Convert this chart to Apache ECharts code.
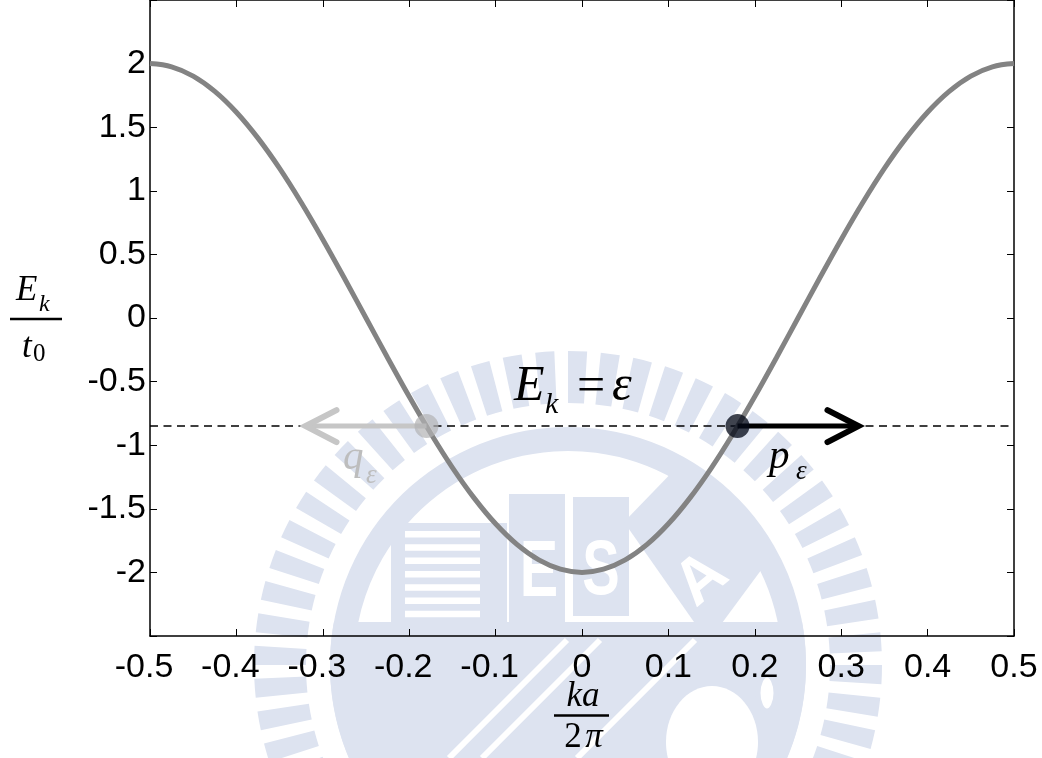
<!DOCTYPE html>
<html>
<head>
<meta charset="utf-8">
<script src="https://cdn.jsdelivr.net/npm/echarts@6/dist/echarts.min.js"></script>
<style>
  html, body { margin: 0; padding: 0; background: #ffffff; }
  #chart { width: 1042px; height: 758px; }
</style>
</head>
<body>
<div id="chart"></div>
<script>
// Tight-binding band E_k / t0 versus ka / 2pi, sampled every 0.025
const kValues = [
  -0.5, -0.475, -0.45, -0.425, -0.4, -0.375, -0.35, -0.325, -0.3, -0.275, -0.25,
  -0.225, -0.2, -0.175, -0.15, -0.125, -0.1, -0.075, -0.05, -0.025, 0,
  0.025, 0.05, 0.075, 0.1, 0.125, 0.15, 0.175, 0.2, 0.225, 0.25,
  0.275, 0.3, 0.325, 0.35, 0.375, 0.4, 0.425, 0.45, 0.475, 0.5
];
const energyValues = [
  2.0, 1.975, 1.902, 1.782, 1.618, 1.414, 1.176, 0.908, 0.618, 0.313, 0.0,
  -0.313, -0.618, -0.908, -1.176, -1.414, -1.618, -1.782, -1.902, -1.975, -2.0,
  -1.975, -1.902, -1.782, -1.618, -1.414, -1.176, -0.908, -0.618, -0.313, 0.0,
  0.313, 0.618, 0.908, 1.176, 1.414, 1.618, 1.782, 1.902, 1.975, 2.0
];
// Energy level epsilon and the two states on it
const epsilonLevel = -0.85;
const stateK = [-0.18, 0.18];
const arrowEndK = [-0.32, 0.32];
const stateColors = ['rgba(178,178,180,0.88)', 'rgba(5,10,25,0.96)'];
const arrowColors = ['#c6c6c6', '#000000'];

// Axis ranges and tick steps
const kRange = [-0.5, 0.5];
const kStep = 0.1;
const eRange = [-2.5, 2.5];
const eStep = 0.5;
const eLabelLimit = 2;

const curveData = kValues.map((k, i) => [k, energyValues[i]]);
const levelData = [[kRange[0], epsilonLevel], [kRange[1], epsilonLevel]];
const stateData = stateK.map(k => [k, epsilonLevel]);
const arrowData = stateK.map((k, i) => [k, arrowEndK[i], epsilonLevel]);

const tickFont = 'Liberation Sans, Arial, Helvetica, sans-serif';
const mathFont = 'Liberation Serif, Times New Roman, serif';
const tickSize = 34;

// ---- faint seal in the background ----
const sealColor = '#dde3f0';
const C = [568, 665];
const deg = Math.PI / 180;
const seal = [];
for (let a = 150; a <= 392; a += 6) {
  seal.push({
    type: 'sector', z: -10, silent: true,
    shape: { cx: C[0], cy: C[1], r0: 262, r: 314, startAngle: a * deg, endAngle: (a + 3.5) * deg, clockwise: true },
    style: { fill: sealColor }
  });
}
seal.push({
  type: 'sector', z: -10, silent: true,
  shape: { cx: C[0], cy: C[1], r0: 214, r: 238, startAngle: 150 * deg, endAngle: 390 * deg, clockwise: true },
  style: { fill: sealColor }
});
// lower filled region of the seal
(function () {
  const yTop = 622, r = 238;
  const pts = [];
  const dx = Math.sqrt(r * r - (C[1] - yTop) * (C[1] - yTop));
  pts.push([C[0] - dx, yTop], [C[0] + dx, yTop]);
  const a0 = Math.asin((yTop - C[1]) / r);
  for (let a = a0; a <= Math.PI - a0; a += 0.02) {
    pts.push([C[0] + r * Math.cos(a), C[1] + r * Math.sin(a)]);
  }
  seal.push({ type: 'polygon', z: -10, silent: true, shape: { points: pts }, style: { fill: sealColor } });
})();
// building, E and S blocks
seal.push({ type: 'rect', z: -9, silent: true, shape: { x: 391, y: 523, width: 116, height: 99 }, style: { fill: sealColor } });
for (let i = 0; i < 7; i++) {
  seal.push({ type: 'rect', z: -8, silent: true, shape: { x: 405, y: 531 + i * 13.3, width: 75, height: 6.5 }, style: { fill: '#ffffff' } });
}
seal.push({ type: 'rect', z: -9, silent: true, shape: { x: 509, y: 494, width: 56, height: 130 }, style: { fill: sealColor } });
seal.push({ type: 'rect', z: -9, silent: true, shape: { x: 573, y: 497, width: 56, height: 119 }, style: { fill: sealColor } });
seal.push({ type: 'text', z: -8, silent: true, x: 539, y: 574, scaleX: 0.72,
  style: { text: 'E', fill: '#ffffff', font: 'bold 80px ' + tickFont, align: 'center', verticalAlign: 'middle' } });
seal.push({ type: 'text', z: -8, silent: true, x: 601, y: 572, scaleX: 0.72,
  style: { text: 'S', fill: '#ffffff', font: 'bold 78px ' + tickFont, align: 'center', verticalAlign: 'middle' } });
// A diamond
seal.push({ type: 'polygon', z: -9, silent: true,
  shape: { points: [[624, 522], [682, 462], [770, 558], [708, 642]] }, style: { fill: sealColor } });
seal.push({ type: 'text', z: -8, silent: true, x: 702, y: 580, rotation: 40 * deg,
  style: { text: 'A', fill: '#ffffff', font: 'bold 64px ' + tickFont, align: 'center', verticalAlign: 'middle' } });
// white diagonals in lower region
[1207, 1240, 1335].forEach(c => {
  seal.push({ type: 'line', z: -8, silent: true, shape: { x1: c - 758, y1: 758, x2: c - 640, y2: 640 }, style: { stroke: '#ffffff', lineWidth: 6 } });
});
seal.push({ type: 'ellipse', z: -8, silent: true, shape: { cx: 712, cy: 742, rx: 46, ry: 56 }, style: { fill: '#ffffff' } });
seal.push({ type: 'ellipse', z: -8, silent: true, shape: { cx: 767, cy: 693, rx: 9, ry: 18 }, style: { fill: '#ffffff', stroke: sealColor, lineWidth: 5 } });

// ---- math labels ----
function mtext(x, y, text, size, italic, color, align) {
  return {
    type: 'text', z: 20, silent: true, x: x, y: y,
    style: {
      text: text, fill: color || '#000000',
      font: (italic ? 'italic ' : '') + size + 'px ' + mathFont,
      align: align || 'left', verticalAlign: 'middle'
    }
  };
}
const labels = [
  // E_k / t_0
  mtext(16, 291, 'E', 35, true),
  mtext(39, 305, 'k', 24, true),
  { type: 'line', z: 20, silent: true, shape: { x1: 10, y1: 319, x2: 62, y2: 319 }, style: { stroke: '#000', lineWidth: 2.5 } },
  mtext(22, 348, 't', 35, true),
  mtext(33, 354, '0', 25, false),
  // ka / 2pi
  mtext(583, 697, 'ka', 35, true, '#000', 'center'),
  { type: 'line', z: 20, silent: true, shape: { x1: 554, y1: 715.5, x2: 609, y2: 715.5 }, style: { stroke: '#000', lineWidth: 2.5 } },
  mtext(573, 738, '2', 35, false, '#000', 'center'),
  mtext(594, 738, 'π', 35, true, '#000', 'center'),
  // E_k = epsilon
  mtext(514, 387, 'E', 50, true),
  mtext(545, 405, 'k', 30, true),
  mtext(591, 388, '=', 50, false, '#000', 'center'),
  mtext(612, 387, 'ε', 50, true),
  // q_epsilon, p_epsilon
  mtext(343, 458, 'q', 41, true, '#bdbdbd'),
  mtext(366, 476, 'ε', 27, true, '#bdbdbd'),
  mtext(769, 457, 'p', 41, true),
  mtext(796, 472, 'ε', 27, true)
];

const chart = echarts.init(document.getElementById('chart'), null, { renderer: 'canvas' });

const axisLineStyle = { color: '#000000', width: 1.5 };
const tickStyle = { show: true, inside: true, length: 7, lineStyle: { color: '#000000', width: 1 } };
const fmt = v => String(Math.round(v * 10) / 10);

chart.setOption({
  backgroundColor: '#ffffff',
  animation: false,
  grid: { left: 150, right: 28, top: 0, bottom: 122, containLabel: false },
  xAxis: [
    {
      type: 'value', min: kRange[0], max: kRange[1], interval: kStep, position: 'bottom',
      axisLine: { show: true, onZero: false, lineStyle: axisLineStyle },
      axisTick: tickStyle,
      splitLine: { show: false },
      axisLabel: {
        color: '#000', fontSize: tickSize, fontFamily: tickFont, margin: 15,
        // negative labels keep the digits centred under the tick
        formatter: v => (v < -1e-9 ? '{n|' + fmt(v) + '}' : '{p|' + fmt(v) + '}'),
        rich: {
          n: { color: '#000', fontSize: tickSize, fontFamily: tickFont, padding: [0, 12, 0, 0] },
          p: { color: '#000', fontSize: tickSize, fontFamily: tickFont }
        }
      }
    },
    {
      type: 'value', min: kRange[0], max: kRange[1], interval: kStep, position: 'top',
      axisLine: { show: true, onZero: false, lineStyle: axisLineStyle },
      axisTick: tickStyle, axisLabel: { show: false }, splitLine: { show: false }
    }
  ],
  yAxis: [
    {
      type: 'value', min: eRange[0], max: eRange[1], interval: eStep, position: 'left',
      axisLine: { show: true, onZero: false, lineStyle: axisLineStyle },
      axisTick: tickStyle,
      splitLine: { show: false },
      axisLabel: { color: '#000', fontSize: tickSize, fontFamily: tickFont, margin: 4,
        formatter: v => (Math.abs(v) > eLabelLimit + 1e-9 ? '' : fmt(v)) }
    },
    {
      type: 'value', min: eRange[0], max: eRange[1], interval: eStep, position: 'right',
      axisLine: { show: true, onZero: false, lineStyle: axisLineStyle },
      axisTick: tickStyle, axisLabel: { show: false }, splitLine: { show: false }
    }
  ],
  graphic: { elements: seal.concat(labels) },
  series: [
    {
      type: 'line', name: 'band', data: curveData, smooth: 0.35, showSymbol: false, symbol: 'none',
      lineStyle: { color: '#838383', width: 5 }, z: 3, silent: true
    },
    {
      type: 'line', name: 'level', data: levelData, showSymbol: false, symbol: 'none',
      lineStyle: { color: '#000000', width: 1.5, type: [8, 5.5] }, z: 2, silent: true
    },
    {
      type: 'custom', name: 'momentum', data: arrowData, z: 4, silent: true,
      encode: { x: [0, 1], y: 2 },
      renderItem: function (params, api) {
        const y = api.value(2);
        const p0 = api.coord([api.value(0), y]);
        const p1 = api.coord([api.value(1), y]);
        const dir = p1[0] > p0[0] ? 1 : -1;
        const color = arrowColors[params.dataIndex];
        return {
          type: 'group',
          children: [
            { type: 'line', shape: { x1: p0[0], y1: p0[1], x2: p1[0] - dir * 3, y2: p1[1] },
              style: { stroke: color, lineWidth: 5, lineCap: 'butt' } },
            { type: 'polyline',
              shape: { points: [[p1[0] - dir * 31, p1[1] - 16], [p1[0], p1[1]], [p1[0] - dir * 31, p1[1] + 16]] },
              style: { stroke: color, fill: null, lineWidth: 6, lineCap: 'round', lineJoin: 'miter' } }
          ]
        };
      }
    },
    {
      type: 'scatter', name: 'states', data: stateData, symbol: 'circle', symbolSize: 24, z: 5, silent: true,
      itemStyle: { color: params => stateColors[params.dataIndex], borderWidth: 0 }
    }
  ]
});
</script>
</body>
</html>
